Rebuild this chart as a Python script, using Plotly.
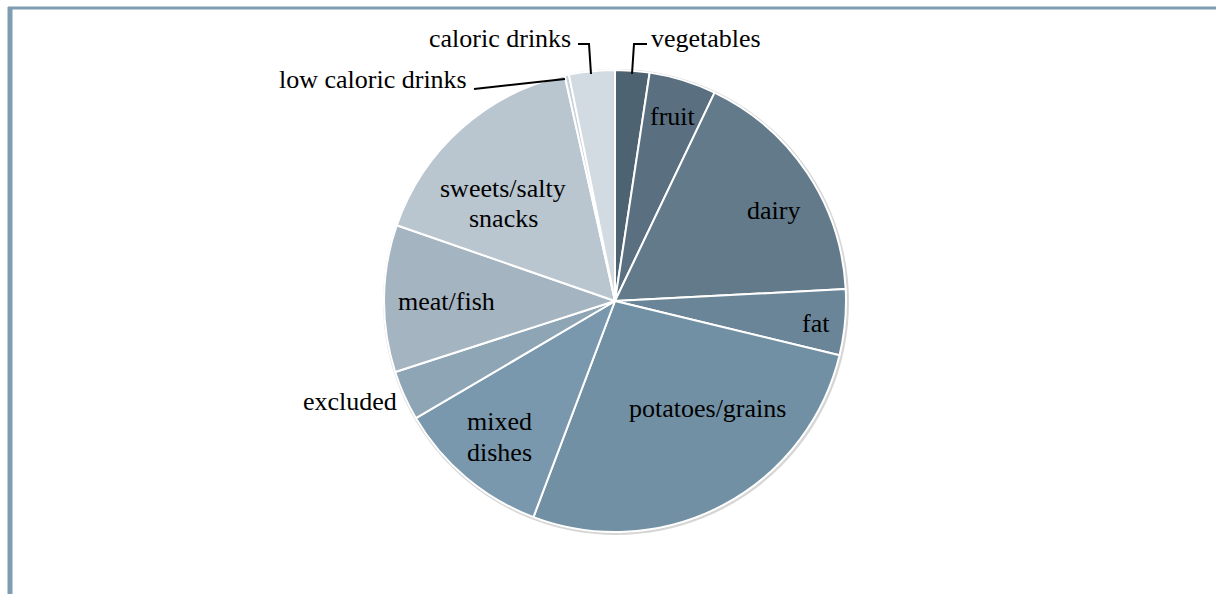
import plotly.graph_objects as go

W, H = 1216, 594

categories = ["vegetables", "fruit", "dairy", "fat", "potatoes/grains", "mixed dishes",
              "excluded", "meat/fish", "sweets/salty snacks", "low caloric drinks", "caloric drinks"]
values = [2.4, 4.7, 17.1, 4.6, 27.0, 10.8, 3.5, 10.3, 16.2, 0.3, 3.2]
colors = ["#4e6371", "#5a7080", "#627a8a", "#6a8597", "#7290a4", "#7a98ad",
          "#8ea5b6", "#a5b4c1", "#b9c5cf", "#c8d1d9", "#d3dbe2"]

cx, cy, r = 615, 301, 231

def px(x):
    return x / W

def py(y):
    return 1 - y / H

fig = go.Figure(go.Pie(
    labels=categories, values=values, sort=False, direction="clockwise", rotation=0,
    marker=dict(colors=colors, line=dict(color="white", width=2)),
    textinfo="none", hoverinfo="label+percent", showlegend=False,
    domain=dict(x=[px(cx - r), px(cx + r)], y=[py(cy + r), py(cy - r)]),
))

font = dict(family="Liberation Serif", size=26, color="black")
# (text, x, y, xanchor)
label_pos = [
    ("vegetables", 649, 39, "left"),
    ("fruit", 673, 116, "center"),
    ("dairy", 773, 210, "center"),
    ("fat", 816, 323, "center"),
    ("potatoes/grains", 707, 408, "center"),
    ("mixed", 500, 421, "center"),
    ("dishes", 500, 452, "center"),
    ("excluded", 399, 401, "right"),
    ("meat/fish", 446, 301, "center"),
    ("sweets/salty", 503, 188, "center"),
    ("snacks", 503, 218, "center"),
    ("low caloric drinks", 469, 79, "right"),
    ("caloric drinks", 573, 39, "right"),
]
anns = []
for t, x, y, xa in label_pos:
    anns.append(dict(text=t, x=px(x), y=py(y), xref="paper", yref="paper",
                     xanchor=xa, yanchor="middle", showarrow=False, font=font))

shapes = []
# subtle shadow rim behind the pie
shapes.append(dict(type="circle", xref="paper", yref="paper", layer="below",
                   x0=px(cx - r - 1), x1=px(cx + r + 3), y0=py(cy + r + 3), y1=py(cy - r - 1),
                   fillcolor="#d6d6d6", line=dict(width=0)))

def path(points, color="black", width=2):
    d = "M " + " L ".join(f"{px(x)},{py(y)}" for x, y in points)
    shapes.append(dict(type="path", path=d, xref="paper", yref="paper",
                       line=dict(color=color, width=width)))

# leader lines
path([(632, 74), (634, 44), (647, 44)])
path([(591, 74), (589, 44), (578, 44)])
path([(565, 79), (474, 89)])

# frame borders
shapes.append(dict(type="line", xref="paper", yref="paper", x0=px(10), x1=px(10), y0=py(7), y1=py(594),
                   line=dict(color="#7f9cb0", width=5)))
shapes.append(dict(type="line", xref="paper", yref="paper", x0=px(8), x1=1, y0=py(8), y1=py(8),
                   line=dict(color="#7f9cb0", width=3)))

fig.update_layout(width=W, height=H, margin=dict(l=0, r=0, t=0, b=0),
                  paper_bgcolor="white", plot_bgcolor="white",
                  annotations=anns, shapes=shapes)

fig.write_html("out.html")
